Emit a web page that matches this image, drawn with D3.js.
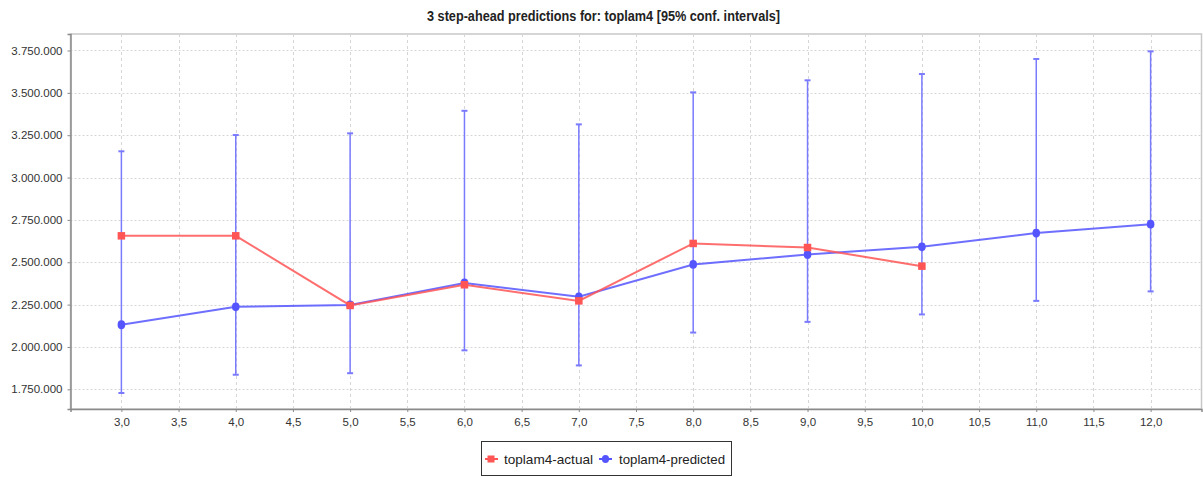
<!DOCTYPE html>
<html><head><meta charset="utf-8">
<script src="https://cdn.jsdelivr.net/npm/d3@7"></script>
<style>
html,body{margin:0;padding:0;background:#fff;}
svg{display:block;}
</style>
</head><body>
<script>
const steps = [3, 4, 5, 6, 7, 8, 9, 10, 11, 12];
const actualSteps = [3, 4, 5, 6, 7, 8, 9, 10];
const actualValues = [2656000, 2656000, 2245000, 2367000, 2272000, 2611000, 2587000, 2477000];
const predictedValues = [2131000, 2237000, 2248000, 2378000, 2296000, 2487000, 2546000, 2591000, 2672000, 2725000];
const lowerBounds = [1728000, 1836000, 1845000, 1980000, 1891000, 2085000, 2148000, 2192000, 2272000, 2328000];
const upperBounds = [3155000, 3251000, 3261000, 3394000, 3314000, 3503000, 3574000, 3611000, 3700000, 3745000];
const xTicks = [3, 3.5, 4, 4.5, 5, 5.5, 6, 6.5, 7, 7.5, 8, 8.5, 9, 9.5, 10, 10.5, 11, 11.5, 12];
const yTicks = [1750000, 2000000, 2250000, 2500000, 2750000, 3000000, 3250000, 3500000, 3750000];
const titleText = "3 step-ahead predictions for: toplam4 [95% conf. intervals]";
const seriesNames = ["toplam4-actual", "toplam4-predicted"];

const W = 1203, H = 477;
const L = 70.5, R = 1201.5, T = 34, B = 409;
const redC = "#ff5555", blueC = "#5555ff", errC = "#7a7aff";

const loc = d3.formatLocale({decimal: ",", thousands: ".", grouping: [3], currency: ["", ""]});
const fy = loc.format(",.0f");
const fx = loc.format(".1f");

const svg = d3.select("body").append("svg").attr("width", W).attr("height", H);
const x = d3.scaleLinear().domain([2.555, 12.445]).range([L, R]);
const y = d3.scaleLinear().domain([1633700, 3847400]).range([B, T]);

const font = "'Liberation Sans', Arial, sans-serif";

// title
svg.append("text").attr("x", 603.5).attr("y", 21).attr("text-anchor", "middle")
  .attr("font-family", font)
  .attr("font-weight", "bold").attr("font-size", 15).attr("fill", "#222")
  .attr("textLength", 353).attr("lengthAdjust", "spacingAndGlyphs")
  .text(titleText);

// plot background + outline
svg.append("rect").attr("x", L).attr("y", T).attr("width", R - L).attr("height", B - T)
  .attr("fill", "#fff").attr("stroke", "#c8c8c8").attr("stroke-width", 1.5);

// grid
const grid = svg.append("g");
grid.selectAll(".vg").data(xTicks).join("line")
  .attr("x1", d => Math.round(x(d)) + 0.5).attr("x2", d => Math.round(x(d)) + 0.5)
  .attr("y1", T).attr("y2", B)
  .attr("stroke", "#d6d6d6").attr("stroke-dasharray", "3,3");
grid.selectAll(".hg").data(yTicks).join("line")
  .attr("y1", d => Math.round(y(d)) + 0.5).attr("y2", d => Math.round(y(d)) + 0.5)
  .attr("x1", L).attr("x2", R)
  .attr("stroke", "#d6d6d6").attr("stroke-dasharray", "2,2");

// axes
const yAxis = d3.axisLeft(y).tickValues(yTicks).tickFormat(fy).tickSize(3).tickPadding(5);
const gy = svg.append("g").attr("transform", `translate(${L},0)`).call(yAxis);
const xAxis = d3.axisBottom(x).tickValues(xTicks).tickFormat(fx).tickSize(3).tickPadding(6);
const gx = svg.append("g").attr("transform", `translate(0,${B})`).call(xAxis);
[gx, gy].forEach(g => {
  g.select(".domain").attr("stroke", "#8a8a8a").attr("stroke-width", 1.5);
  g.selectAll(".tick line").attr("stroke", "#8a8a8a");
  g.selectAll("text").attr("font-family", font).attr("font-size", 11.5).attr("fill", "#333");
});

// predicted error bars
const pred = steps.map((s, i) => ({s, v: predictedValues[i], lo: lowerBounds[i], hi: upperBounds[i]}));
const eb = svg.append("g");
eb.selectAll(".eb").data(pred).join("line")
  .attr("x1", d => x(d.s)).attr("x2", d => x(d.s))
  .attr("y1", d => y(d.lo)).attr("y2", d => y(d.hi))
  .attr("stroke", errC).attr("stroke-width", 1.5);
["lo", "hi"].forEach(k => {
  eb.selectAll(".cap" + k).data(pred).join("line")
    .attr("x1", d => x(d.s) - 3).attr("x2", d => x(d.s) + 3)
    .attr("y1", d => y(d[k])).attr("y2", d => y(d[k]))
    .attr("stroke", errC).attr("stroke-width", 2);
});

const line = d3.line().x(d => x(d.s)).y(d => y(d.v));
// predicted line
svg.append("path").datum(pred).attr("d", line).attr("fill", "none")
  .attr("stroke", blueC).attr("stroke-opacity", 0.85).attr("stroke-width", 2);
svg.append("g").selectAll("ellipse").data(pred).join("ellipse")
  .attr("cx", d => x(d.s)).attr("cy", d => y(d.v)).attr("rx", 3.8).attr("ry", 4.4)
  .attr("fill", blueC);

// actual
const act = actualSteps.map((s, i) => ({s, v: actualValues[i]}));
svg.append("path").datum(act).attr("d", line).attr("fill", "none")
  .attr("stroke", redC).attr("stroke-opacity", 0.85).attr("stroke-width", 2);
svg.append("g").selectAll("rect").data(act).join("rect")
  .attr("x", d => x(d.s) - 3.75).attr("y", d => y(d.v) - 3.75).attr("width", 7.5).attr("height", 7.5)
  .attr("fill", redC);

// legend
const lg = svg.append("g");
lg.append("rect").attr("x", 481.5).attr("y", 441.5).attr("width", 250).attr("height", 34)
  .attr("fill", "#fff").attr("stroke", "#333").attr("stroke-width", 1);
const ly = 459;
lg.append("line").attr("x1", 485).attr("x2", 498).attr("y1", ly).attr("y2", ly).attr("stroke", redC).attr("stroke-width", 2);
lg.append("rect").attr("x", 487.5).attr("y", ly - 3.5).attr("width", 7).attr("height", 7).attr("fill", redC);
lg.append("text").attr("x", 504).attr("y", ly + 4.5).attr("font-family", font).attr("font-size", 13).attr("fill", "#222")
  .attr("textLength", 89).attr("lengthAdjust", "spacingAndGlyphs").text(seriesNames[0]);
lg.append("line").attr("x1", 599).attr("x2", 612).attr("y1", ly).attr("y2", ly).attr("stroke", blueC).attr("stroke-width", 2);
lg.append("ellipse").attr("cx", 605.5).attr("cy", ly).attr("rx", 3.6).attr("ry", 4).attr("fill", blueC);
lg.append("text").attr("x", 619).attr("y", ly + 4.5).attr("font-family", font).attr("font-size", 13).attr("fill", "#222")
  .attr("textLength", 106).attr("lengthAdjust", "spacingAndGlyphs").text(seriesNames[1]);
</script>
</body></html>
